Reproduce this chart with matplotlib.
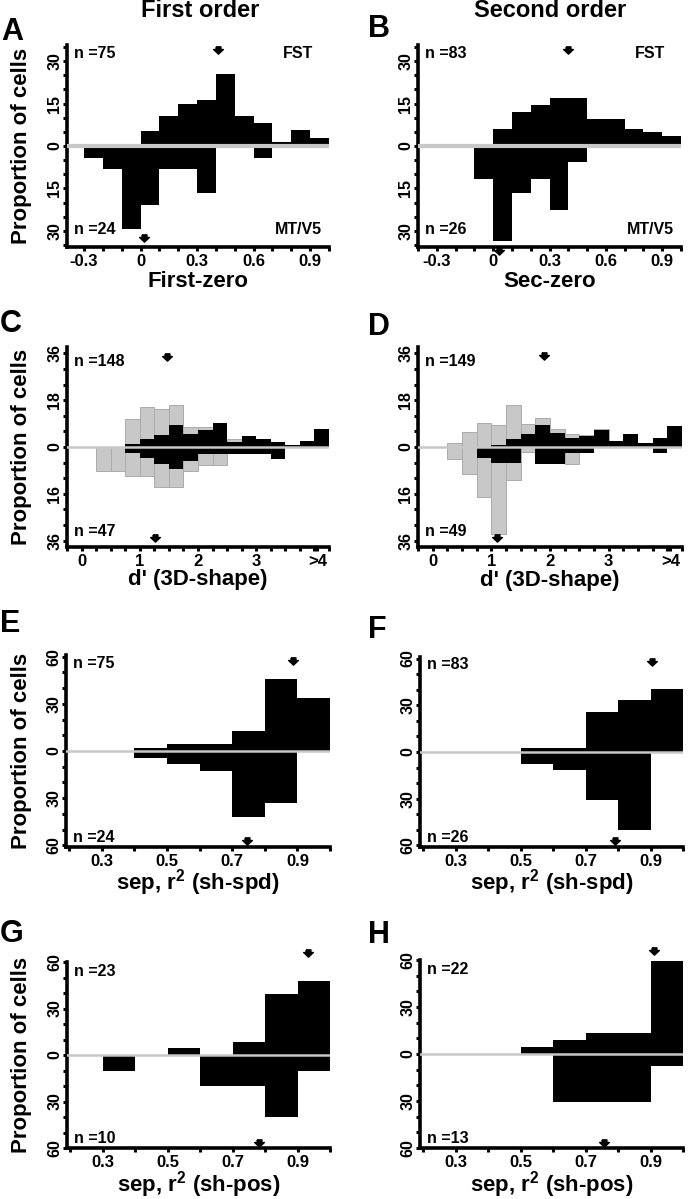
import numpy as np
import matplotlib
matplotlib.use("Agg")
import matplotlib.pyplot as plt
from matplotlib.ticker import MultipleLocator, FixedLocator

plt.rcParams['font.family'] = ['Liberation Sans', 'DejaVu Sans']
plt.rcParams['font.weight'] = 'bold'
plt.rcParams['mathtext.fontset'] = 'custom'
plt.rcParams['mathtext.rm'] = 'Liberation Sans:bold'
plt.rcParams['mathtext.it'] = 'Liberation Sans:bold'
plt.rcParams['mathtext.bf'] = 'Liberation Sans:bold'

# bin edges
edges_zero = np.round(np.arange(-0.4, 1.01, 0.1), 2)     # 14 bins
edges_dprime = np.arange(0.25, 4.26, 0.25)                # 16 bins
edges_sep = np.round(np.arange(0.2, 1.01, 0.1), 2)        # 8 bins

# proportion of cells (%), FST up, MT/V5 down
a_fst = [0, 0, 0, 0, 5.4, 10.7, 14.8, 16.2, 25.3, 10.7, 8.1, 1.5, 5.6, 3.0]
a_mt = [0, 4.2, 8.3, 29.2, 20.8, 8.3, 8.3, 16.7, 0, 0, 4.2, 0, 0, 0]
b_fst = [0, 0, 0, 0, 6.0, 12.0, 14.5, 16.9, 16.9, 9.6, 9.6, 6.0, 4.8, 3.6]
b_mt = [0, 0, 0, 11.5, 33.5, 16.5, 11.5, 22.5, 5.8, 0, 0, 0, 0, 0]

c_fst = [0, 0, 1.0, 3.1, 4.6, 8.5, 5.0, 6.6, 9.2, 1.9, 4.2, 2.9, 1.9, 0.7, 2.3, 7.0]
c_mt = [0, 0, 2.2, 4.3, 6.4, 8.5, 5.3, 2.6, 2.6, 2.6, 2.6, 2.6, 4.6, 0, 0, 0]
c_fst_gray = [0, 0, 10.6, 15.5, 14.6, 16.2, 7.8, 7.7, 0, 2.9, 0, 0, 0, 0, 0, 0]
c_mt_gray = [9.2, 9.2, 11.1, 11.1, 15.4, 15.4, 9.2, 6.9, 6.9, 0, 0, 0, 0, 0, 0, 0]

d_fst = [0, 0, 0, 0.9, 2.9, 5.0, 8.5, 5.5, 3.3, 4.3, 6.4, 2.4, 5.1, 1.6, 3.6, 8.0]
d_mt = [0, 0, 4.2, 6.2, 6.2, 0, 6.4, 6.4, 2.3, 2.3, 0, 0, 0, 0, 2.3, 0]
d_fst_gray = [1.7, 5.8, 9.2, 8.6, 16.0, 9.0, 11.2, 7.0, 5.1, 4.6, 7.0, 0, 0, 0, 0, 0]
d_mt_gray = [4.5, 10.5, 19.2, 33.6, 12.8, 2.0, 0, 0, 6.4, 0, 0, 0, 0, 0, 0, 0]

e_fst = [0, 0, 2.1, 4.6, 4.6, 12.5, 45.6, 33.5]
e_mt = [0, 0, 4.2, 8.3, 12.5, 41.7, 33.3, 0]
f_fst = [0, 0, 0, 2.3, 2.3, 26.0, 33.3, 40.6]
f_mt = [0, 0, 0, 7.7, 11.5, 30.8, 50.0, 0]
g_fst = [0, 0, 0, 4.3, 0, 8.7, 39.1, 47.8]
g_mt = [0, 10.0, 0, 0, 20.0, 20.0, 40.0, 10.0]
h_fst = [0, 0, 0, 4.5, 9.1, 13.6, 13.6, 59.1]
h_mt = [0, 0, 0, 0, 30.8, 30.8, 30.8, 7.7]

# medians (arrows)
medians = {'A': (0.41, 0.02), 'B': (0.40, 0.03), 'C': (1.47, 1.27), 'D': (1.89, 1.09),
           'E': (0.888, 0.745), 'F': (0.905, 0.792), 'G': (0.933, 0.78), 'H': (0.91, 0.757)}
n_cells = {'A': (75, 24), 'B': (83, 26), 'C': (148, 47), 'D': (149, 49),
           'E': (75, 24), 'F': (83, 26), 'G': (23, 10), 'H': (22, 13)}

W, H = 691, 1199
fig = plt.figure(figsize=(W / 100, H / 100), dpi=100)

def box(l, t, r, b):
    return [l / W, 1 - b / H, (r - l) / W, (b - t) / H]

# stubby down arrow
arrow = [(-0.5, 0.75), (0.5, 0.75), (0.5, 0.2), (1.0, 0.2), (0.0, -0.75),
         (-1.0, 0.2), (-0.5, 0.2), (-0.5, 0.75)]

def draw_panel(ax, key, edges, fst, mt, half, step, ylab, xlim, xticks, xlabels, xstep,
               arrow_y, zlw=2.0, gfst=None, gmt=None, area=False, ntext_y=(0.955, 0.07)):
    left = edges[:-1]
    w = np.diff(edges)
    if gfst is not None:
        ax.bar(left, gfst, width=w, align='edge', color='#c8c8c8', edgecolor='#ababab',
               linewidth=0.7, zorder=1)
        ax.bar(left, -np.array(gmt), width=w, align='edge', color='#c8c8c8',
               edgecolor='#ababab', linewidth=0.7, zorder=1)
    ax.bar(left, fst, width=w, align='edge', color='k', linewidth=0, zorder=2)
    ax.bar(left, -np.array(mt), width=w, align='edge', color='k', linewidth=0, zorder=2)
    ax.axhline(0, color='#c8c8c8', lw=zlw, zorder=3)

    ax.set_xlim(*xlim)
    ax.set_ylim(-half, half)
    for s in ['top', 'right']:
        ax.spines[s].set_visible(False)
    for s in ['left', 'bottom']:
        ax.spines[s].set_linewidth(2.6)

    yt = [ylab[1], ylab[1] / 2, 0, -ylab[1] / 2, -ylab[1]]
    ax.yaxis.set_major_locator(FixedLocator(yt))
    ax.set_yticklabels(ylab[0], rotation=90, va='center', fontsize=11.5, fontweight='bold')
    ax.yaxis.set_minor_locator(MultipleLocator(step))
    ax.xaxis.set_major_locator(FixedLocator(xticks))
    ax.set_xticklabels(xlabels, fontsize=12, fontweight='bold')
    ax.xaxis.set_minor_locator(MultipleLocator(xstep))
    ax.tick_params(which='both', direction='out', length=3, width=2.2)
    ax.tick_params(axis='y', pad=0.5)
    ax.tick_params(axis='x', pad=2)

    mf, mm = medians[key]
    ax.plot(mf, arrow_y[0], marker=arrow, ms=7, color='k', ls='none', clip_on=False, zorder=5)
    ax.plot(mm, arrow_y[1], marker=arrow, ms=7, color='k', ls='none', clip_on=False, zorder=5)

    nf, nm = n_cells[key]
    ax.text(0.025, ntext_y[0], 'n =%d' % nf, transform=ax.transAxes, fontsize=11.5,
            fontweight='bold', va='center', ha='left')
    ax.text(0.025, ntext_y[1], 'n =%d' % nm, transform=ax.transAxes, fontsize=11.5,
            fontweight='bold', va='center', ha='left')
    if area:
        ax.text(0.94, ntext_y[0], 'FST', transform=ax.transAxes, fontsize=11.5,
                fontweight='bold', va='center', ha='right')
        ax.text(0.975, ntext_y[1], 'MT/V5', transform=ax.transAxes, fontsize=11.5,
                fontweight='bold', va='center', ha='right')


boxes = {'A': (67, 45, 329, 247), 'B': (418, 45, 681, 247),
         'C': (67, 347, 329, 547), 'D': (418, 347, 682, 547),
         'E': (66, 655, 330, 847), 'F': (420, 657, 683, 847),
         'G': (67, 962, 330, 1148), 'H': (420, 960, 683, 1148)}
axs = {k: fig.add_axes(box(*v)) for k, v in boxes.items()}

lab30 = (['30', '15', '0', '15', '30'], 30)
lab36 = (['36', '18', '0', '16', '36'], 36)
lab60 = (['60', '30', '0', '30', '60'], 60)
zt = [-0.3, 0, 0.3, 0.6, 0.9]
zl = ['-0.3', '0', '0.3', '0.6', '0.9']
dt = [0, 1, 2, 3, 4.05]
dl = ['0', '1', '2', '3', '>4']
st = [0.3, 0.5, 0.7, 0.9]
sl = ['0.3', '0.5', '0.7', '0.9']

draw_panel(axs['A'], 'A', edges_zero, a_fst, a_mt, 35.7, 5, lab30, (-0.39, 1.0), zt, zl, 0.1,
           (34.0, -32.5), zlw=3.0, area=True, ntext_y=(0.96, 0.085))
draw_panel(axs['B'], 'B', edges_zero, b_fst, b_mt, 35.7, 5, lab30, (-0.4, 1.0), zt, zl, 0.1,
           (34.0, -37.0), zlw=3.0, area=True, ntext_y=(0.96, 0.085))
draw_panel(axs['C'], 'C', edges_dprime, c_fst, c_mt, 38.5, 6, lab36, (-0.25, 4.25), dt, dl, 0.25,
           (34.8, -35.0), zlw=1.8, gfst=c_fst_gray, gmt=c_mt_gray, ntext_y=(0.926, 0.077))
draw_panel(axs['D'], 'D', edges_dprime, d_fst, d_mt, 38.5, 6, lab36, (-0.25, 4.25), dt, dl, 0.25,
           (35.0, -35.0), zlw=1.8, gfst=d_fst_gray, gmt=d_mt_gray, ntext_y=(0.926, 0.077))
draw_panel(axs['E'], 'E', edges_sep, e_fst, e_mt, 61, 10, lab60, (0.19, 1.0), st, sl, 0.1,
           (57.5, -57.0), zlw=1.8, ntext_y=(0.958, 0.052))
draw_panel(axs['F'], 'F', edges_sep, f_fst, f_mt, 61, 10, lab60, (0.19, 1.0), st, sl, 0.1,
           (57.5, -57.0), zlw=1.8, ntext_y=(0.958, 0.052))
draw_panel(axs['G'], 'G', edges_sep, g_fst, g_mt, 60, 10, lab60, (0.19, 1.0), st, sl, 0.1,
           (66.0, -57.0), zlw=1.8, ntext_y=(0.948, 0.05))
draw_panel(axs['H'], 'H', edges_sep, h_fst, h_mt, 60, 10, lab60, (0.19, 1.0), st, sl, 0.1,
           (66.0, -57.0), zlw=1.8, ntext_y=(0.948, 0.05))

# axis labels (baseline positions in px)
xlabels = {'A': 'First-zero', 'B': 'Sec-zero', 'C': "d' (3D-shape)", 'D': "d' (3D-shape)",
           'E': r'sep, r$^{2}$ (sh-spd)', 'F': r'sep, r$^{2}$ (sh-spd)',
           'G': r'sep, r$^{2}$ (sh-pos)', 'H': r'sep, r$^{2}$ (sh-pos)'}
xlab_y = {'A': 287, 'B': 287, 'C': 585, 'D': 586, 'E': 890, 'F': 890, 'G': 1191, 'H': 1191}
for k, (l, t, r, b) in boxes.items():
    fig.text((l + r) / 2 / W, 1 - xlab_y[k] / H, xlabels[k], fontsize=16, fontweight='bold',
             ha='center', va='baseline')
    if k in 'ACEG':
        fig.text(22 / W, 1 - (t + b) / 2 / H, 'Proportion of cells', rotation=90, fontsize=16,
                 fontweight='bold', ha='center', va='center')

# panel letters (baseline positions in px)
letters = {'A': (1, 40), 'B': (368, 37), 'C': (0, 332), 'D': (368, 335),
           'E': (0, 632), 'F': (368, 638), 'G': (0, 942), 'H': (368, 943)}
for k, (x, y) in letters.items():
    fig.text(x / W, 1 - y / H, k, fontsize=22, fontweight='bold', ha='left', va='baseline')

fig.text(200 / W, 1 - 17 / H, 'First order', fontsize=17, fontweight='bold', ha='center', va='baseline')
fig.text(550 / W, 1 - 17 / H, 'Second order', fontsize=17, fontweight='bold', ha='center', va='baseline')

fig.savefig('out.png', dpi=100)
